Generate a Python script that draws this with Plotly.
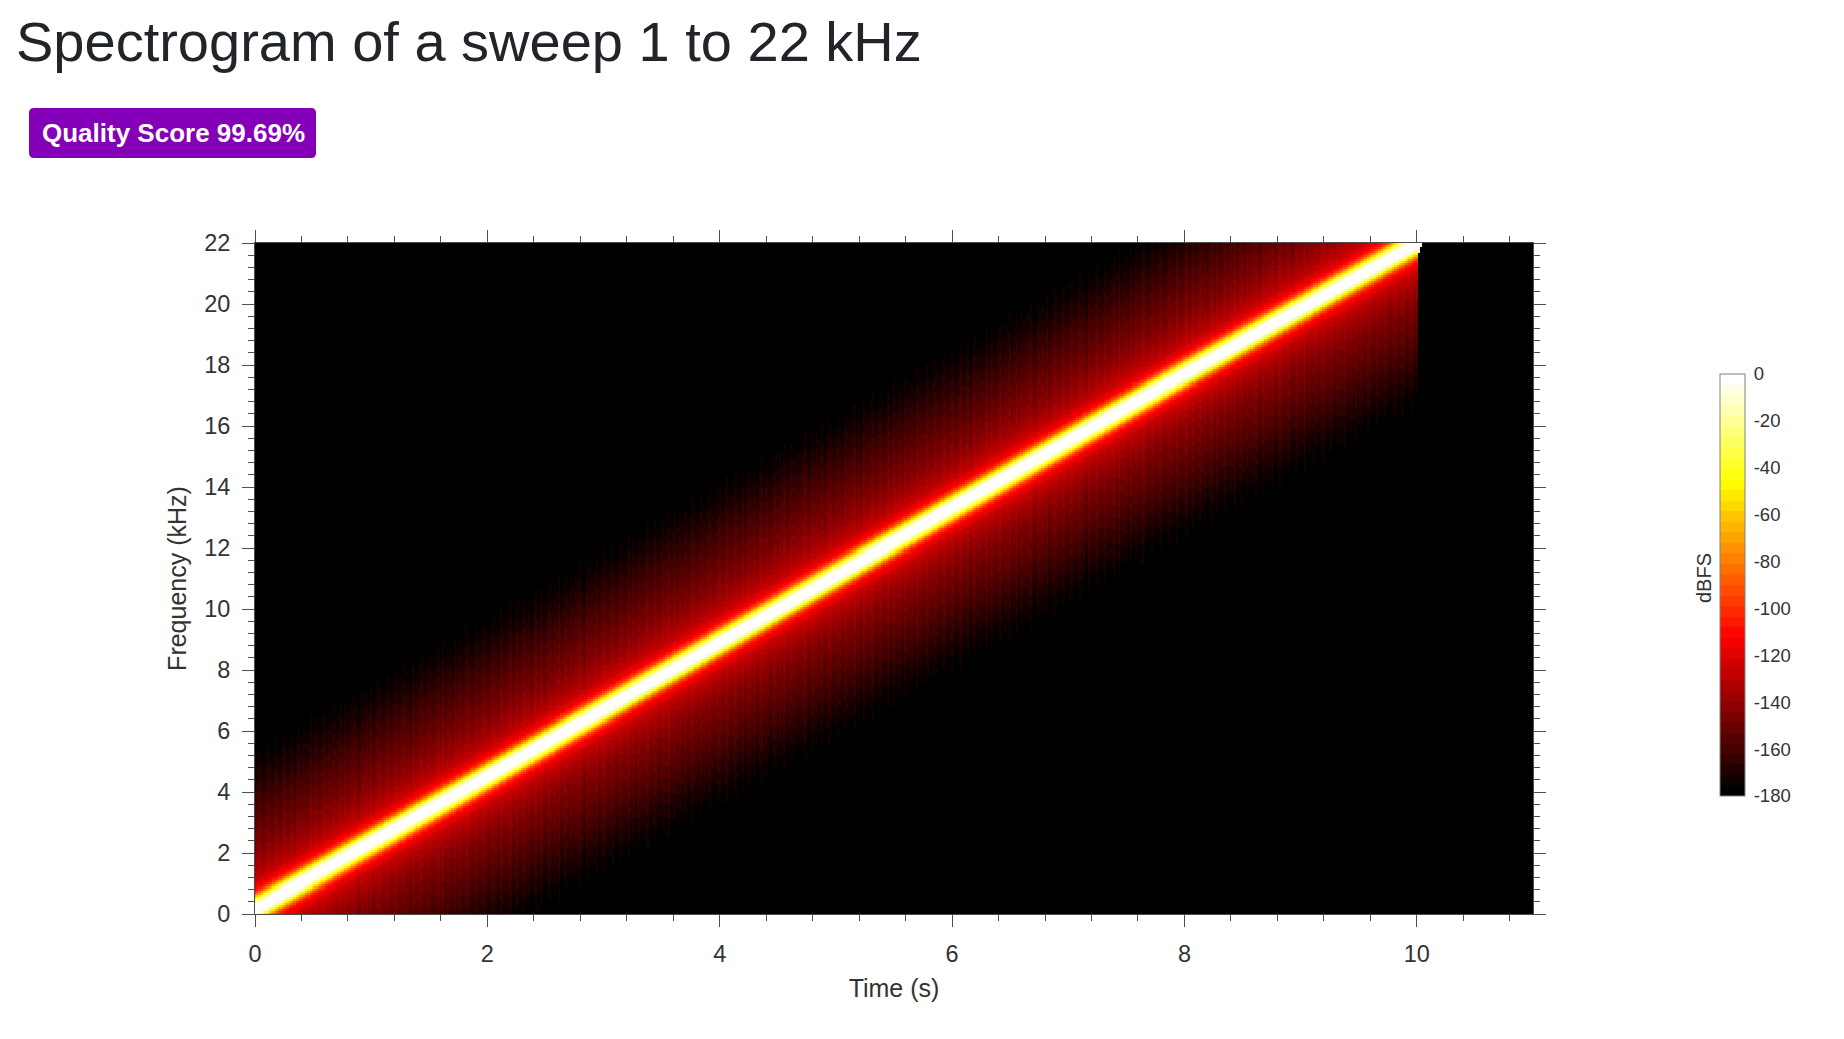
import numpy as np
import plotly.graph_objects as go

W, H = 1844, 1039
PLOT_L, PLOT_R, PLOT_T, PLOT_B = 255, 1533, 243, 914
CB_L, CB_R, CB_T, CB_B = 1720, 1745, 374, 796

title_text = "Spectrogram of a sweep 1 to 22 kHz"
badge_text = "Quality Score 99.69%"
x_title, y_title, cb_title = "Time (s)", "Frequency (kHz)", "dBFS"

# Ridge of the sweep
ridge_time_s = [0, 2, 4, 6, 8, 10]
ridge_khz = [0.15, 4.5, 8.9, 13.3, 17.7, 22.0]

# Level across the ridge (dB) against distance from it (kHz), read via the colour bands
offset_khz = [-5.7, -5.0, -4.0, -3.0, -2.0, -1.5, -1.0, -0.68, -0.53, -0.41, -0.32, -0.24, -0.14, 0,
              0.14, 0.24, 0.32, 0.41, 0.53, 0.68, 1.0, 1.5, 2.0, 3.0, 4.0, 4.8, 5.5]
level_db = [-180, -176, -166, -155, -145, -138, -128, -114, -95, -65, -40, -18, -3, 0,
            -3, -18, -40, -65, -95, -114, -128, -138, -145, -156, -167, -175, -180]

# Where the sweep stops at each frequency (right edge of the picture's band)
end_khz = [0, 19.5, 21, 21.7, 22]
end_time_s = [10.0, 10.0, 10.0, 10.02, 10.06]

# Faint vertical striations of the skirts, dB per analysis frame (estimated by eye)
frame_ripple_db = [-2, 1, 2, -1, -3, 1, 2, -1, -2, 3, 0, -3, 1, 3, -2, -1, 2, -4, 1, 2,
                   -1, 1, -3, 0, 3, -2, 2, -1, -3, 1, 2, -2, 1, -1, 3, -3, 0, 2, -2, 1,
                   -1, 0, 1, 3, -2, -4, 2, 0, 1, -1, 2, -3, -1, 3, 1, -2, 0, 2, -1, -3,
                   2, 1, -1, 0, 3, -2, 1, -4, 2, 0, -1, 1, 3, -2, -1, 2, 0, -3, 1, 2,
                   -2, 3, -1, 0, 1, -3, 2, -1, 1, 0, -2, 3, 1, -1, -2, 2, 0]

color_anchor_pos = [0, 0.375, 0.75, 1]
color_anchor_r = [0, 255, 255, 255]
color_anchor_g = [0, 0, 255, 255]
color_anchor_b = [0, 0, 0, 255]
n_color_steps = 40

x_major = [0, 2, 4, 6, 8, 10]
y_major = [0, 2, 4, 6, 8, 10, 12, 14, 16, 18, 20, 22]
cb_ticks = [0, -20, -40, -60, -80, -100, -120, -140, -160, -180]

t = np.arange(0, 11.0001, 0.02)
f = np.arange(0, 22.0001, 0.066)
T, F = np.meshgrid(t, f)
ridge = np.interp(T, ridge_time_s, ridge_khz)
Z = np.interp(F - ridge, offset_khz, level_db, left=-180, right=-180)
ripple = np.resize(frame_ripple_db, t.size)[None, :]
weight = np.clip((-112 - Z) / 30, 0, 1)
Z = np.where(Z > -180, Z + ripple * weight, -180.0)
Z = np.where(T > np.interp(F, end_khz, end_time_s), -180.0, Z)
Z = np.clip(Z, -180, 0)

scale = []
for i in range(n_color_steps):
    p = i / (n_color_steps - 1)
    c = [round(float(np.interp(p, color_anchor_pos, a))) for a in (color_anchor_r, color_anchor_g, color_anchor_b)]
    col = f"rgb({c[0]},{c[1]},{c[2]})"
    scale += [[i / n_color_steps, col], [(i + 1) / n_color_steps, col]]

AX = "#4d4d4d"
TXT = "#333333"
FONT = "Liberation Sans"

fig = go.Figure(go.Heatmap(
    x=t, y=f, z=Z, zmin=-180, zmax=0, colorscale=scale,
    colorbar=dict(
        x=CB_L / W, xanchor="left", y=1 - CB_B / H, yanchor="bottom",
        lenmode="pixels", len=CB_B - CB_T, thicknessmode="pixels", thickness=CB_R - CB_L,
        xpad=0, ypad=0, outlinecolor="#808080", outlinewidth=1,
        tickvals=cb_ticks, ticktext=[str(v) for v in cb_ticks],
        ticks="outside", ticklen=5, tickwidth=1, tickcolor="rgba(0,0,0,0)",
        tickfont=dict(family=FONT, size=18.5, color=TXT),
    ),
))

axis = dict(showgrid=False, zeroline=False, showline=True, linecolor=AX, linewidth=1, mirror="ticks",
            automargin=False,
            ticks="outside", ticklen=12, tickwidth=1, tickcolor=AX,
            tickfont=dict(family=FONT, size=23.5, color=TXT), tickmode="array",
            minor=dict(ticks="outside", ticklen=6, tickwidth=1, tickcolor=AX, dtick=0.4, tick0=0))

shapes = []
# rounded badge
bx0, bx1, by0, by1, r = 29 / W, 316 / W, 1 - 108 / H, 1 - 158 / H, 5
rx, ry = r / W, r / H
shapes.append(dict(type="path", xref="paper", yref="paper", fillcolor="#8400b8", line=dict(width=0),
    path=f"M{bx0+rx},{by0} L{bx1-rx},{by0} Q{bx1},{by0} {bx1},{by0-ry} L{bx1},{by1+ry} Q{bx1},{by1} {bx1-rx},{by1} "
         f"L{bx0+rx},{by1} Q{bx0},{by1} {bx0},{by1+ry} L{bx0},{by0-ry} Q{bx0},{by0} {bx0+rx},{by0} Z"))
# colour-bar ticks on both edges, pointing inward
for v in cb_ticks[1:-1]:
    y = 1 - (CB_T + (CB_B - CB_T) * (-v / 180)) / H
    for x0, x1 in ((CB_L, CB_L + 5), (CB_R - 5, CB_R)):
        shapes.append(dict(type="line", xref="paper", yref="paper", x0=x0 / W, x1=x1 / W, y0=y, y1=y,
                           line=dict(color="#555", width=1)))

fig.update_layout(
    width=W, height=H, margin=dict(l=0, r=0, t=0, b=0, autoexpand=False), paper_bgcolor="white", plot_bgcolor="black",
    font=dict(family=FONT),
    title=dict(text=title_text, x=16 / W, xanchor="left", xref="container", y=1 - 41 / H, yanchor="middle", yref="container",
               font=dict(family=FONT, size=56, color="#212529"), pad=dict(l=0, r=0, t=0, b=0)),
    xaxis=dict(axis, domain=[PLOT_L / W, PLOT_R / W], range=[0, 11], tickvals=x_major, ticklabelstandoff=7,
               title=dict(text=x_title, font=dict(family=FONT, size=25, color=TXT), standoff=13)),
    yaxis=dict(axis, domain=[1 - PLOT_B / H, 1 - PLOT_T / H], range=[0, 22], tickvals=y_major, ticklabelstandoff=7,
               title=dict(text=y_title, font=dict(family=FONT, size=25, color=TXT), standoff=10)),
    shapes=shapes,
    annotations=[
        dict(text=badge_text, xref="paper", yref="paper", x=(30 + 317) / 2 / W, y=1 - 133 / H, xanchor="center", yanchor="middle",
             showarrow=False, font=dict(family=FONT, size=26, color="white", weight="bold")),
        dict(text=cb_title, xref="paper", yref="paper", x=1704 / W, y=1 - 578 / H, xanchor="center", yanchor="middle",
             showarrow=False, textangle=-90, font=dict(family=FONT, size=20, color=TXT)),
    ],
)

fig.write_html("out.html", config=dict(displayModeBar=False),
               post_script="document.body.style.margin='0';document.body.style.overflow='hidden';")
